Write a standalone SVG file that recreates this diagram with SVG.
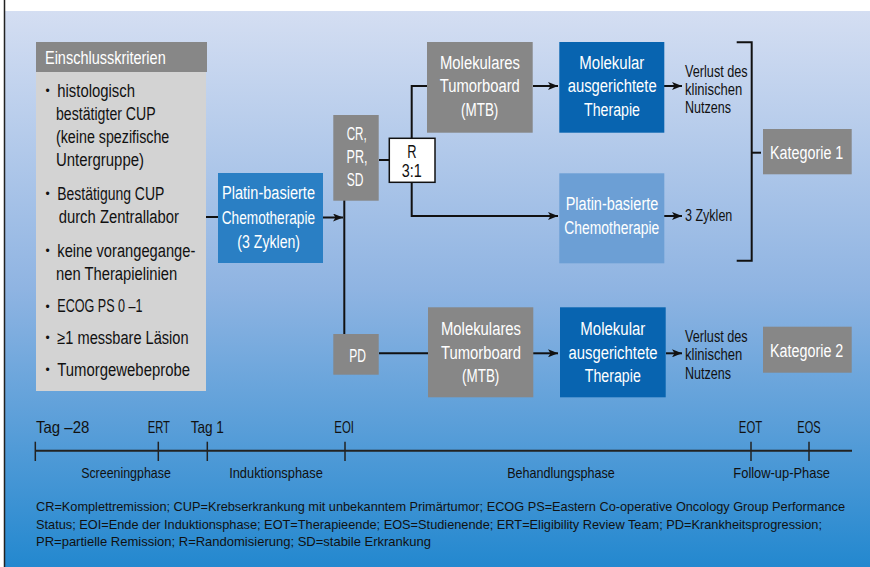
<svg xmlns="http://www.w3.org/2000/svg" width="870" height="567" viewBox="0 0 870 567">
  <defs>
    <linearGradient id="bg" x1="0" y1="0" x2="0" y2="1">
      <stop offset="0" stop-color="#d4def2"/>
      <stop offset="0.5" stop-color="#8fb4e2"/>
      <stop offset="1" stop-color="#2388cf"/>
    </linearGradient>
    <marker id="ah" viewBox="0 0 10 8" refX="10" refY="4" markerWidth="10" markerHeight="8" markerUnits="userSpaceOnUse" orient="auto">
      <path d="M0,0 L10,4 L0,8 L2.5,4 Z" fill="#111"/>
    </marker>
    <style>
      text { font-family: "Liberation Sans Narrow", "Liberation Sans", Arial, sans-serif; }
      .w { fill: #ffffff; font-size: 18px; text-anchor: middle; }
      .b { fill: #111111; font-size: 18px; }
      .bul { fill: #111111; font-size: 12px; }
      .s { fill: #111111; font-size: 16px; }
      .tl { fill: #111111; font-size: 16.5px; text-anchor: middle; }
      .tls { fill: #111111; font-size: 16.5px; }
      .ph { fill: #111111; font-size: 15px; text-anchor: middle; }
      .fn { fill: #111111; font-size: 13px; }
      .grey { fill: #878787; }
      .lgrey { fill: #d3d3d3; }
      .mblue { fill: #2a7fc4; }
      .dblue { fill: #0864b0; }
      .lblue { fill: #6c9fd5; }
      .ln { stroke: #111; stroke-width: 2; fill: none; }
      .arr { stroke: #111; stroke-width: 2; fill: none; marker-end: url(#ah); }
    </style>
  </defs>

  <rect x="0" y="0" width="870" height="567" fill="#ffffff"/>
  <rect x="4" y="11" width="866" height="556" fill="url(#bg)"/>
  <line x1="4.5" y1="0" x2="4.5" y2="567" stroke="#222" stroke-width="1.5"/>

  <g id="connectors">
    <line class="ln" x1="206" y1="217" x2="218" y2="217"/>
    <line class="arr" x1="323" y1="217.5" x2="343" y2="217.5"/>
    <line class="ln" x1="344.3" y1="200" x2="344.3" y2="334"/>
    <line class="ln" x1="379" y1="160" x2="389" y2="160"/>
    <polyline class="ln" points="411.7,138 411.7,86 427,86"/>
    <polyline class="arr" points="411.7,182 411.7,216 558,216"/>
    <line class="arr" x1="533" y1="86" x2="558" y2="86"/>
    <line class="arr" x1="664" y1="86" x2="682" y2="86"/>
    <line class="arr" x1="664" y1="216" x2="682" y2="216"/>
    <line class="ln" x1="379" y1="353.3" x2="428" y2="353.3"/>
    <line class="arr" x1="533" y1="353.3" x2="558" y2="353.3"/>
    <line class="arr" x1="666" y1="353.3" x2="682" y2="353.3"/>
    <polyline class="ln" points="736.7,42.3 751.7,42.3 751.7,260.7 736.7,260.7"/>
    <line class="ln" x1="751.7" y1="152.7" x2="761" y2="152.7"/>
  </g>

  <g id="einschlusskriterien">
    <rect class="grey" x="36" y="42" width="171" height="30"/>
    <rect class="lgrey" x="36" y="72" width="170" height="319"/>
    <text x="45" y="64" fill="#fff" font-size="18" textLength="120.7" lengthAdjust="spacingAndGlyphs">Einschlusskriterien</text>
    <g class="bul">
      <text x="45.5" y="95">•</text>
      <text x="45.5" y="198">•</text>
      <text x="45.5" y="255">•</text>
      <text x="45.5" y="310.5">•</text>
      <text x="45.5" y="342">•</text>
      <text x="45.5" y="374">•</text>
    </g>
    <g class="b">
      <text x="57.3" y="96.5" textLength="77.7" lengthAdjust="spacingAndGlyphs">histologisch</text>
      <text x="56" y="119.5" textLength="99.7" lengthAdjust="spacingAndGlyphs">bestätigter CUP</text>
      <text x="56" y="142.5" textLength="113.3" lengthAdjust="spacingAndGlyphs">(keine spezifische</text>
      <text x="56" y="165.5" textLength="88" lengthAdjust="spacingAndGlyphs">Untergruppe)</text>
      <text x="57.3" y="199.5" textLength="107" lengthAdjust="spacingAndGlyphs">Bestätigung CUP</text>
      <text x="58.7" y="223" textLength="120.3" lengthAdjust="spacingAndGlyphs">durch Zentrallabor</text>
      <text x="57.3" y="256.5" textLength="138" lengthAdjust="spacingAndGlyphs">keine vorangegange-</text>
      <text x="56" y="280" textLength="121.3" lengthAdjust="spacingAndGlyphs">nen Therapielinien</text>
      <text x="57.3" y="312" textLength="85.3" lengthAdjust="spacingAndGlyphs">ECOG PS 0 –1</text>
      <text x="57.3" y="343.5" textLength="131.3" lengthAdjust="spacingAndGlyphs">≥1 messbare Läsion</text>
      <text x="57.3" y="375.5" textLength="132.7" lengthAdjust="spacingAndGlyphs">Tumorgewebeprobe</text>
    </g>
  </g>

  <g id="platin1">
    <rect class="mblue" x="218" y="173" width="105" height="90"/>
    <text class="w" x="268.5" y="199" textLength="93" lengthAdjust="spacingAndGlyphs">Platin-basierte</text>
    <text class="w" x="268.4" y="223.5" textLength="93.3" lengthAdjust="spacingAndGlyphs">Chemotherapie</text>
    <text class="w" x="268.7" y="248" textLength="62.7" lengthAdjust="spacingAndGlyphs">(3 Zyklen)</text>
  </g>

  <g id="crprsd">
    <rect class="grey" x="333.3" y="115" width="45.4" height="85.7"/>
    <text class="w" x="356.7" y="140" textLength="20" lengthAdjust="spacingAndGlyphs">CR,</text>
    <text class="w" x="357" y="163" textLength="21" lengthAdjust="spacingAndGlyphs">PR,</text>
    <text class="w" x="355" y="186" textLength="16.7" lengthAdjust="spacingAndGlyphs">SD</text>
  </g>

  <g id="random">
    <rect x="389.3" y="138.3" width="45.7" height="44" fill="#fff" stroke="#111" stroke-width="1.5"/>
    <text class="b" x="412" y="157.5" text-anchor="middle" textLength="9.3" lengthAdjust="spacingAndGlyphs">R</text>
    <text class="b" x="411.7" y="177" text-anchor="middle" textLength="20" lengthAdjust="spacingAndGlyphs">3:1</text>
  </g>

  <g id="mtb1">
    <rect class="grey" x="427" y="42" width="105.7" height="90.7"/>
    <text class="w" x="480" y="68.5" textLength="80" lengthAdjust="spacingAndGlyphs">Molekulares</text>
    <text class="w" x="479.8" y="92" textLength="80" lengthAdjust="spacingAndGlyphs">Tumorboard</text>
    <text class="w" x="479.7" y="115.5" textLength="37.3" lengthAdjust="spacingAndGlyphs">(MTB)</text>
  </g>

  <g id="molekular1">
    <rect class="dblue" x="559.3" y="42" width="105" height="90.7"/>
    <text class="w" x="611.8" y="68.5" textLength="65" lengthAdjust="spacingAndGlyphs">Molekular</text>
    <text class="w" x="612.2" y="92" textLength="89" lengthAdjust="spacingAndGlyphs">ausgerichtete</text>
    <text class="w" x="612" y="115.5" textLength="56" lengthAdjust="spacingAndGlyphs">Therapie</text>
  </g>

  <g id="platin2">
    <rect class="lblue" x="559.3" y="173.3" width="105" height="90"/>
    <text class="w" x="612" y="210" textLength="92.6" lengthAdjust="spacingAndGlyphs">Platin-basierte</text>
    <text class="w" x="611.8" y="233.5" textLength="95" lengthAdjust="spacingAndGlyphs">Chemotherapie</text>
  </g>

  <g id="outcome1">
    <text class="s" x="685" y="77" textLength="62.7" lengthAdjust="spacingAndGlyphs">Verlust des</text>
    <text class="s" x="685" y="95" textLength="57.3" lengthAdjust="spacingAndGlyphs">klinischen</text>
    <text class="s" x="685" y="113" textLength="46" lengthAdjust="spacingAndGlyphs">Nutzens</text>
  </g>

  <g id="zyklen">
    <text class="s" x="685" y="221" textLength="47.3" lengthAdjust="spacingAndGlyphs">3 Zyklen</text>
  </g>

  <g id="kategorie1">
    <rect class="grey" x="763" y="129" width="88.7" height="45.3"/>
    <text class="w" x="806.7" y="158.5" textLength="73.3" lengthAdjust="spacingAndGlyphs">Kategorie 1</text>
  </g>

  <g id="pd">
    <rect class="grey" x="333.3" y="334" width="45.4" height="40.7"/>
    <text class="w" x="357.7" y="361.5" textLength="16.7" lengthAdjust="spacingAndGlyphs">PD</text>
  </g>

  <g id="mtb2">
    <rect class="grey" x="428" y="307.3" width="105.3" height="90"/>
    <text class="w" x="481" y="335" textLength="80" lengthAdjust="spacingAndGlyphs">Molekulares</text>
    <text class="w" x="481" y="358.5" textLength="80" lengthAdjust="spacingAndGlyphs">Tumorboard</text>
    <text class="w" x="480.7" y="382" textLength="37.3" lengthAdjust="spacingAndGlyphs">(MTB)</text>
  </g>

  <g id="molekular2">
    <rect class="dblue" x="560" y="307.3" width="105.7" height="90"/>
    <text class="w" x="612.8" y="335" textLength="65" lengthAdjust="spacingAndGlyphs">Molekular</text>
    <text class="w" x="613" y="358.5" textLength="89" lengthAdjust="spacingAndGlyphs">ausgerichtete</text>
    <text class="w" x="612.8" y="382" textLength="56" lengthAdjust="spacingAndGlyphs">Therapie</text>
  </g>

  <g id="outcome2">
    <text class="s" x="685" y="342" textLength="62.7" lengthAdjust="spacingAndGlyphs">Verlust des</text>
    <text class="s" x="685" y="360" textLength="57.3" lengthAdjust="spacingAndGlyphs">klinischen</text>
    <text class="s" x="685" y="378.5" textLength="46" lengthAdjust="spacingAndGlyphs">Nutzens</text>
  </g>

  <g id="kategorie2">
    <rect class="grey" x="763" y="326.7" width="88.7" height="46"/>
    <text class="w" x="806.7" y="357" textLength="73.3" lengthAdjust="spacingAndGlyphs">Kategorie 2</text>
  </g>

  <g id="timeline">
    <line x1="35" y1="450.7" x2="852" y2="450.7" stroke="#222" stroke-width="2"/>
    <g stroke="#222" stroke-width="1.5">
      <line x1="35.3" y1="441.7" x2="35.3" y2="461"/>
      <line x1="158.3" y1="441.7" x2="158.3" y2="461"/>
      <line x1="207.3" y1="441.7" x2="207.3" y2="461"/>
      <line x1="345" y1="441.7" x2="345" y2="461"/>
      <line x1="751" y1="441.7" x2="751" y2="461"/>
      <line x1="809" y1="441.7" x2="809" y2="461"/>
    </g>
    <text class="tls" x="36" y="432.5" textLength="53.3" lengthAdjust="spacingAndGlyphs">Tag –28</text>
    <text class="tl" x="158.8" y="432.5" textLength="22.3" lengthAdjust="spacingAndGlyphs">ERT</text>
    <text class="tl" x="207.3" y="432.5" textLength="33.3" lengthAdjust="spacingAndGlyphs">Tag 1</text>
    <text class="tl" x="344.2" y="432.5" textLength="19.7" lengthAdjust="spacingAndGlyphs">EOI</text>
    <text class="tl" x="750.5" y="432.5" textLength="23.3" lengthAdjust="spacingAndGlyphs">EOT</text>
    <text class="tl" x="809" y="432.5" textLength="23.3" lengthAdjust="spacingAndGlyphs">EOS</text>
    <text class="ph" x="126" y="477.5" textLength="89.7" lengthAdjust="spacingAndGlyphs">Screeningphase</text>
    <text class="ph" x="276" y="477.5" textLength="93.7" lengthAdjust="spacingAndGlyphs">Induktionsphase</text>
    <text class="ph" x="561" y="477.5" textLength="107.7" lengthAdjust="spacingAndGlyphs">Behandlungsphase</text>
    <text class="ph" x="781.7" y="477.5" textLength="96.7" lengthAdjust="spacingAndGlyphs">Follow-up-Phase</text>
  </g>

  <g id="footnote">
    <text class="fn" x="36" y="511" textLength="809" lengthAdjust="spacingAndGlyphs">CR=Komplettremission; CUP=Krebserkrankung mit unbekanntem Primärtumor; ECOG PS=Eastern Co-operative Oncology Group Performance</text>
    <text class="fn" x="36" y="528.5" textLength="786" lengthAdjust="spacingAndGlyphs">Status; EOI=Ende der Induktionsphase; EOT=Therapieende; EOS=Studienende; ERT=Eligibility Review Team; PD=Krankheitsprogression;</text>
    <text class="fn" x="36" y="546" textLength="395" lengthAdjust="spacingAndGlyphs">PR=partielle Remission; R=Randomisierung; SD=stabile Erkrankung</text>
  </g>
</svg>
